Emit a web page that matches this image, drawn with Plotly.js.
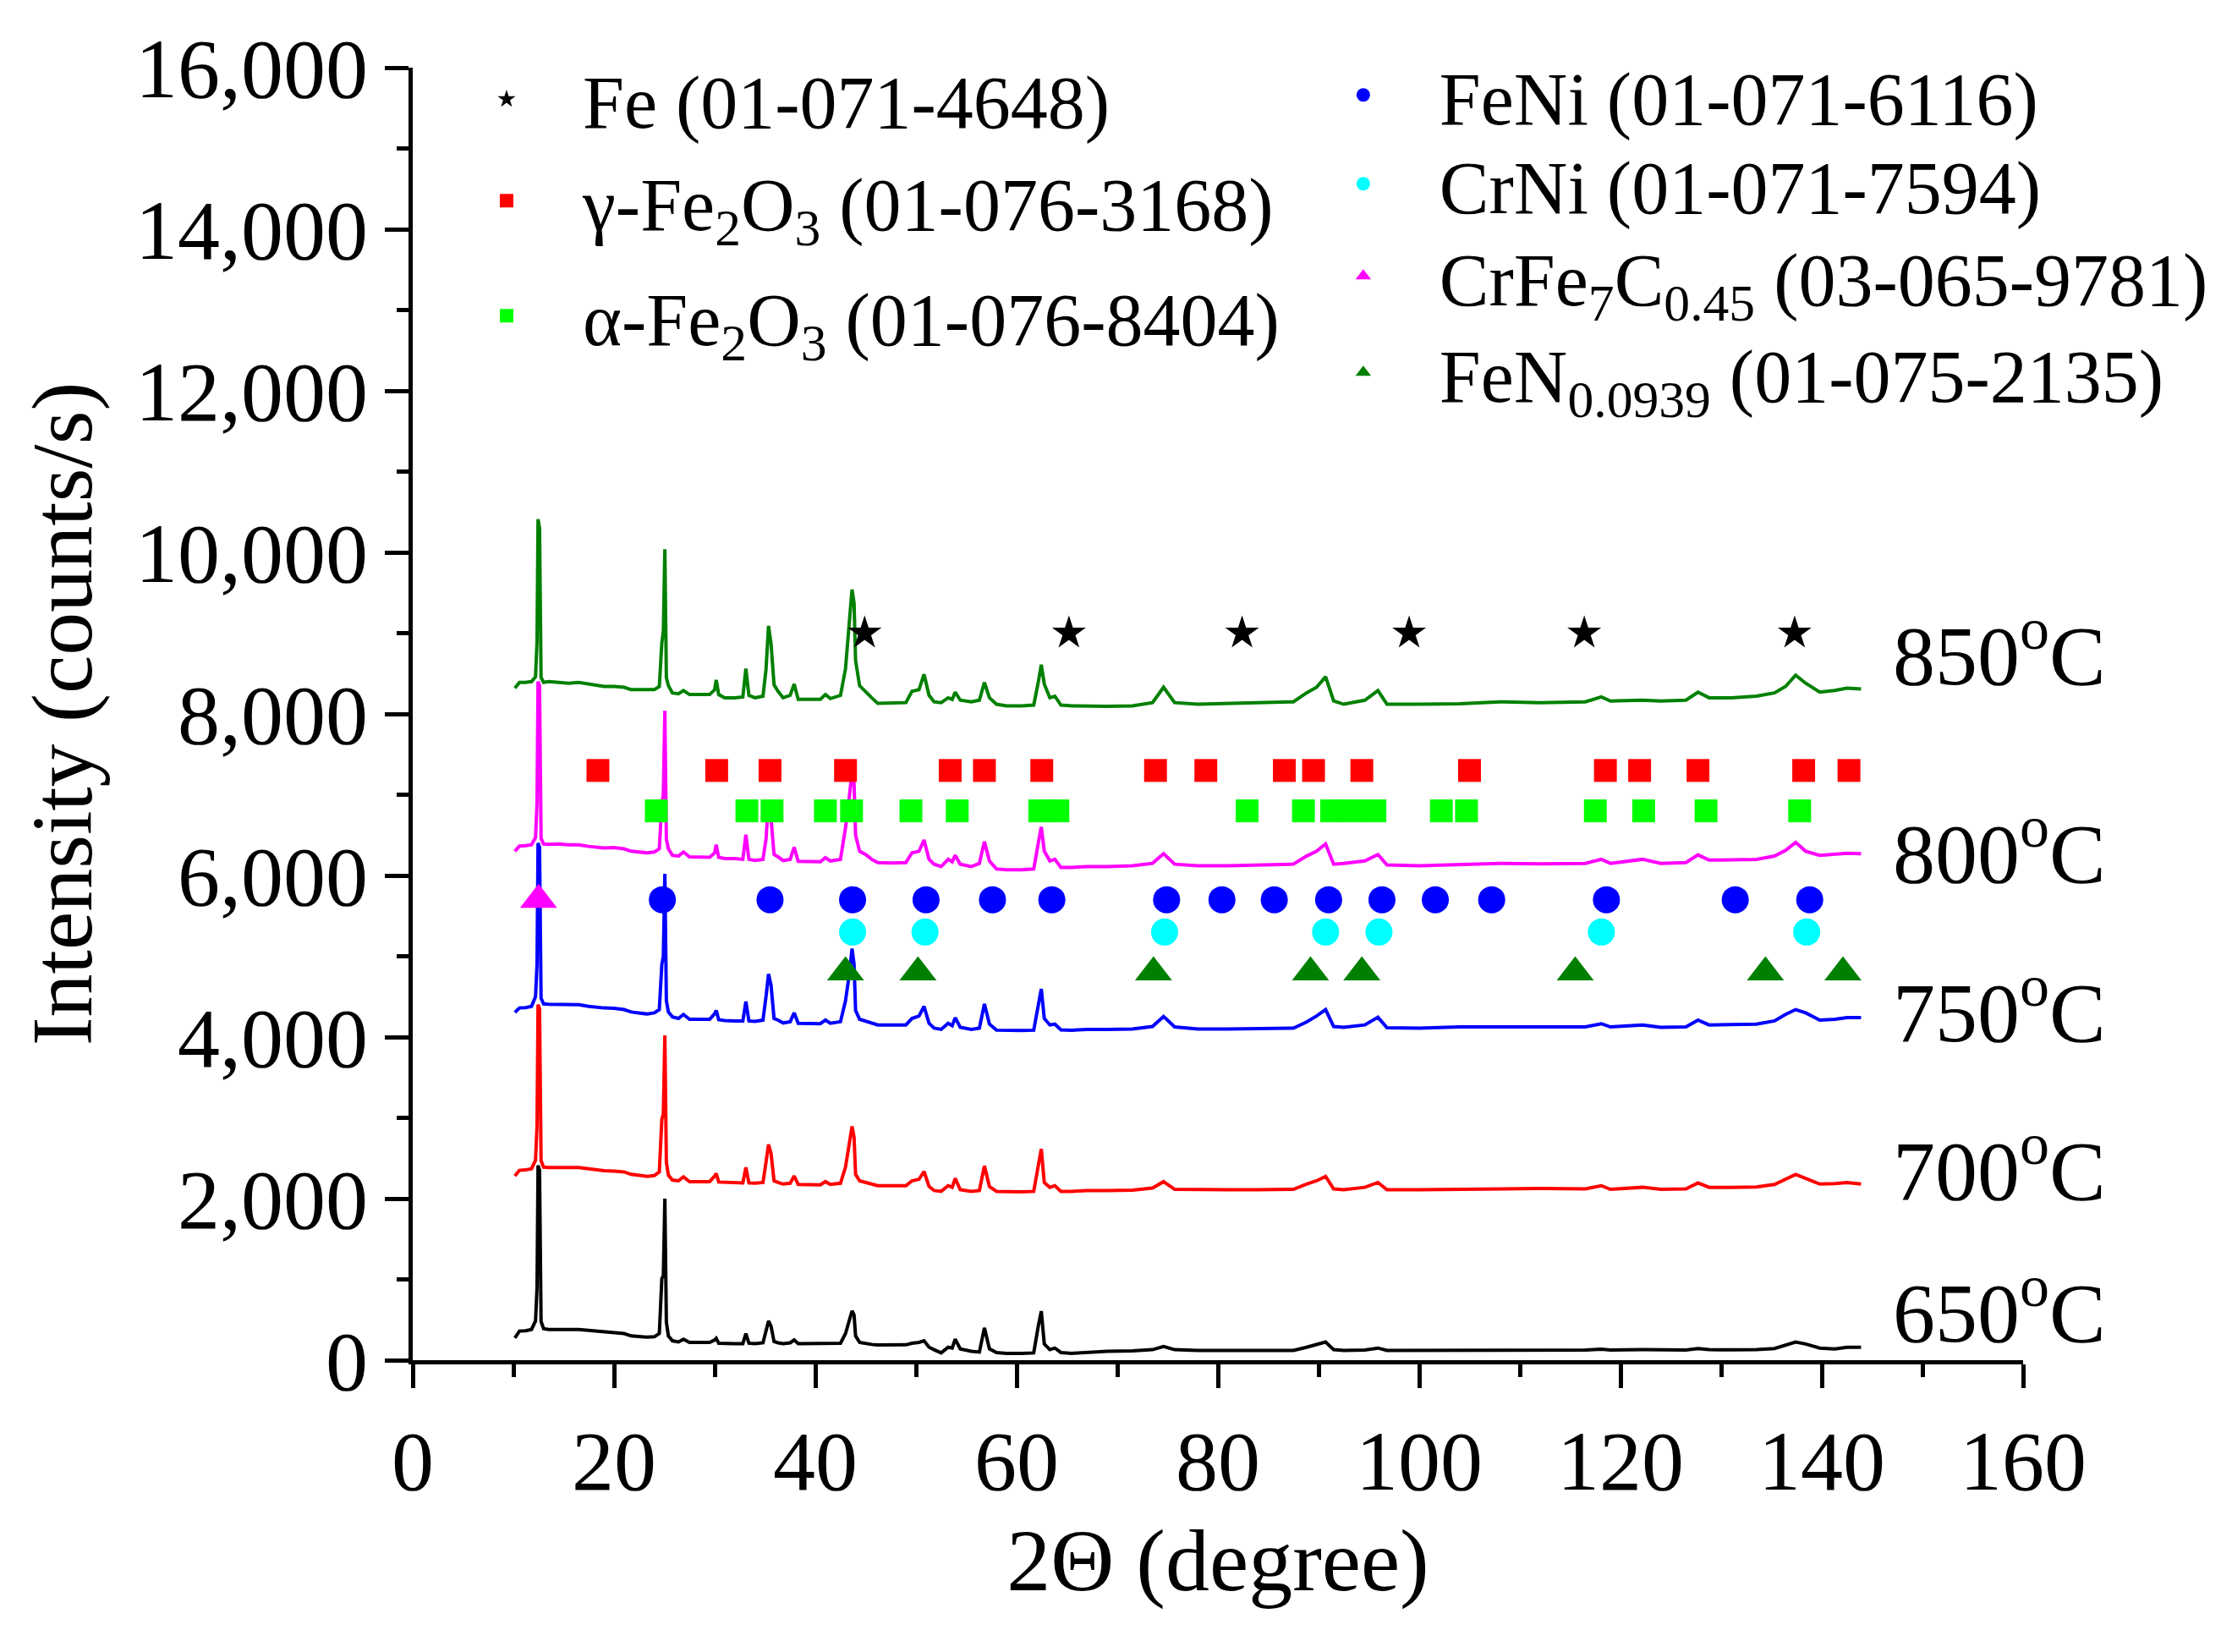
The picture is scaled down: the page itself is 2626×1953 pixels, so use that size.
<!DOCTYPE html>
<html><head><meta charset="utf-8">
<script src="https://cdn.plot.ly/plotly-3.0.1.min.js"></script>
<style>html,body{margin:0;padding:0;background:#fff}</style>
</head><body>
<div id="chart" style="width:2626px;height:1953px"></div>
<script>
// ---------- data ----------
const twoTheta = [
10.15,10.6,11.2,11.8,12.2,12.35,12.45,12.6,12.75,13.0,
13.5,14.5,15.5,16.5,17.5,18.5,19.0,20.0,21.0,21.7,
22.5,23.3,24.0,24.5,24.75,24.9,25.05,25.2,25.4,25.8,
26.4,26.9,27.5,28.5,29.5,30.0,30.15,30.4,31.0,32.0,
32.8,33.1,33.4,34.0,34.8,35.1,35.35,35.6,35.9,36.3,
36.8,37.5,37.9,38.3,39.5,40.5,41.0,41.5,42.5,43.0,
43.4,43.65,43.85,44.0,44.4,45.0,45.6,46.2,47.5,49.0,
49.6,50.3,50.8,51.3,51.8,52.5,53.2,53.6,53.9,54.4,
55.5,56.3,56.8,57.3,58.0,59.0,60.5,61.7,62.15,62.45,
62.75,63.3,63.8,64.4,65.5,67.0,69.0,71.5,73.5,74.6,
75.7,78.0,81.0,84.0,87.5,88.8,89.8,90.7,91.5,92.5,
94.6,95.9,96.8,100.0,104.0,108.0,112.0,116.5,118.1,119.0,
122.2,124.0,126.5,127.7,128.8,131.0,133.5,135.3,136.4,137.4,
138.4,139.8,141.3,142.5,143.9];

const int650 = [
275,360,365,380,485,900,2410,2350,480,390,
380,385,380,380,370,350,345,345,330,300,
290,285,290,330,1010,1050,2000,470,300,240,
225,260,220,220,220,250,270,210,205,205,
205,330,210,205,215,380,485,420,230,215,
205,215,250,205,205,205,215,205,210,330,
520,610,560,300,220,205,195,188,188,190,
210,220,240,160,130,90,160,150,260,140,
110,100,400,140,95,85,85,90,420,607,
200,130,150,95,85,100,110,115,130,170,
130,120,120,120,120,160,190,225,130,120,
125,150,120,120,125,125,125,125,135,125,
130,125,125,145,130,128,130,145,190,225,
200,150,140,160,160];

const int700 = [
2280,2350,2355,2370,2475,2900,4400,4350,2470,2390,
2385,2390,2385,2385,2370,2350,2345,2340,2330,2300,
2290,2275,2285,2330,2980,3050,4020,2450,2290,2230,
2220,2270,2210,2210,2210,2280,2310,2205,2200,2200,
2195,2385,2195,2190,2200,2450,2670,2560,2220,2200,
2180,2190,2280,2175,2170,2170,2210,2175,2190,2390,
2700,2895,2760,2300,2220,2200,2175,2160,2160,2160,
2220,2240,2335,2150,2100,2090,2160,2140,2250,2110,
2090,2100,2405,2150,2090,2085,2085,2090,2400,2615,
2200,2140,2160,2090,2090,2100,2100,2105,2130,2210,
2115,2110,2110,2110,2115,2180,2220,2275,2120,2110,
2140,2200,2110,2110,2115,2120,2125,2120,2160,2115,
2140,2115,2120,2195,2140,2140,2145,2175,2240,2300,
2250,2180,2185,2200,2180];

const int750 = [
4305,4360,4365,4380,4500,4900,6400,6350,4480,4410,
4405,4405,4400,4400,4380,4365,4360,4355,4340,4310,
4300,4285,4300,4340,4900,5000,6020,4450,4310,4250,
4230,4280,4220,4220,4220,4290,4330,4215,4205,4200,
4200,4440,4200,4195,4210,4500,4780,4640,4230,4210,
4175,4190,4300,4170,4165,4165,4210,4170,4190,4450,
4800,5095,4900,4330,4220,4200,4170,4150,4150,4150,
4230,4260,4380,4170,4110,4095,4170,4140,4240,4120,
4095,4110,4410,4160,4085,4080,4080,4085,4400,4595,
4230,4150,4160,4090,4085,4095,4095,4100,4130,4255,
4125,4100,4100,4105,4110,4185,4260,4340,4130,4120,
4150,4245,4115,4110,4125,4125,4130,4125,4165,4125,
4150,4120,4125,4210,4150,4155,4160,4200,4280,4340,
4300,4210,4220,4240,4240];

const int800 = [
6300,6365,6370,6380,6470,6900,8400,8350,6460,6390,
6385,6390,6380,6380,6360,6350,6340,6345,6330,6300,
6290,6280,6290,6330,6900,7000,8040,6450,6330,6250,
6240,6290,6230,6225,6225,6280,6380,6225,6210,6210,
6200,6505,6200,6185,6200,6450,6910,6700,6260,6230,
6185,6200,6350,6175,6175,6170,6220,6180,6200,6590,
7000,7280,7140,6500,6300,6260,6200,6160,6155,6160,
6280,6300,6440,6200,6140,6110,6200,6170,6250,6140,
6110,6150,6420,6180,6080,6070,6070,6080,6400,6600,
6300,6180,6200,6100,6100,6110,6110,6120,6150,6270,
6140,6120,6120,6125,6140,6240,6300,6390,6140,6150,
6180,6260,6130,6120,6130,6150,6145,6150,6200,6150,
6200,6150,6160,6255,6190,6190,6200,6240,6310,6410,
6300,6250,6265,6275,6270];

const int850 = [
8320,8390,8390,8400,8460,8900,10410,10300,8450,8390,
8400,8390,8380,8390,8370,8360,8340,8340,8330,8300,
8300,8290,8300,8340,8880,9020,10040,8450,8350,8260,
8250,8290,8240,8240,8240,8300,8420,8240,8200,8200,
8210,8560,8230,8200,8220,8550,9090,8870,8360,8280,
8200,8230,8370,8180,8180,8180,8240,8190,8230,8560,
9170,9540,9370,8660,8350,8270,8200,8130,8130,8140,
8280,8300,8490,8230,8150,8140,8200,8180,8270,8170,
8150,8170,8390,8200,8120,8100,8100,8110,8390,8610,
8370,8200,8220,8110,8100,8095,8095,8100,8140,8330,
8140,8120,8130,8130,8150,8260,8330,8460,8160,8120,
8170,8290,8120,8120,8125,8150,8140,8150,8210,8160,
8170,8160,8170,8270,8200,8200,8220,8260,8340,8480,
8380,8270,8290,8320,8310];

const seriesNames = ['650°C','700°C','750°C','800°C','850°C'];
const seriesLabels = ['650<sup>o</sup>C','700<sup>o</sup>C','750<sup>o</sup>C','800<sup>o</sup>C','850<sup>o</sup>C'];
const seriesLabelY = [664, 2423, 4380, 6350, 8800];

// phase reference markers (2θ positions and marker level)
const phaseNames = [
  'Fe (01-071-4648)',
  'γ-Fe<sub>2</sub>O<sub>3</sub> (01-076-3168)',
  'α-Fe<sub>2</sub>O<sub>3</sub> (01-076-8404)',
  'FeNi (01-071-6116)',
  'CrNi (01-071-7594)',
  'CrFe<sub>7</sub>C<sub>0.45</sub> (03-065-9781)',
  'FeN<sub>0.0939</sub> (01-075-2135)'
];
const feX = [44.9, 65.2, 82.4, 99.0, 116.4, 137.3];
const feY = [9000, 9000, 9000, 9000, 9000, 9000];
const gFe2O3X = [18.4, 30.2, 35.5, 43.0, 53.4, 56.8, 62.5, 73.8, 78.8, 86.6, 89.5, 94.3, 105.0, 118.5, 121.9, 127.7, 138.2, 142.7];
const gFe2O3Y = [7300,7300,7300,7300,7300,7300,7300,7300,7300,7300,7300,7300,7300,7300,7300,7300,7300,7300];
const aFe2O3X = [24.2, 33.2, 35.7, 41.0, 43.6, 49.5, 54.1, 62.3, 64.1, 82.9, 88.5, 91.3, 93.4, 95.6, 102.2, 104.7, 117.5, 122.3, 128.5, 137.8];
const aFe2O3Y = [6800,6800,6800,6800,6800,6800,6800,6800,6800,6800,6800,6800,6800,6800,6800,6800,6800,6800,6800,6800];
const feNiX = [24.8, 35.5, 43.7, 51.0, 57.6, 63.5, 74.9, 80.4, 85.6, 91.0, 96.3, 101.6, 107.2, 118.6, 131.4, 138.8];
const feNiY = [5700,5700,5700,5700,5700,5700,5700,5700,5700,5700,5700,5700,5700,5700,5700,5700];
const crNiX = [43.7, 50.9, 74.7, 90.7, 96.0, 118.1, 138.5];
const crNiY = [5300,5300,5300,5300,5300,5300,5300];
const crFeCX = [12.5];
const crFeCY = [5700];
const feNX = [43.0, 50.2, 73.6, 89.2, 94.3, 115.5, 134.4, 142.1];
const feNY = [4800,4800,4800,4800,4800,4800,4800,4800];

const xTickVals = [0,20,40,60,80,100,120,140,160];
const yTickVals = [0,2000,4000,6000,8000,10000,12000,14000,16000];

// ---------- build ----------
const FONT = 'Liberation Serif, Times New Roman, serif';
const lineColors = ['#000000','#ff0000','#0000ff','#ff00ff','#008000'];
const intensities = [int650, int700, int750, int800, int850];

const traces = intensities.map((ys, i) => ({
  type: 'scatter', mode: 'lines', x: twoTheta, y: ys, name: seriesNames[i],
  line: {color: lineColors[i], width: 4}, showlegend: false, hoverinfo: 'skip'
}));

const legendIds = ['legend','legend2','legend3','legend4','legend5','legend6','legend7'];
function phase(i, xs, ys, symbol, color, size) {
  return {type: 'scatter', mode: 'markers', x: xs, y: ys, name: phaseNames[i], legend: legendIds[i],
    marker: {symbol: symbol, color: color, size: size, line: {width: 0}}, cliponaxis: false};
}
traces.push(phase(0, feX, feY, 'star', '#000000', 30));
traces.push(phase(1, gFe2O3X, gFe2O3Y, 'square', '#ff0000', 27));
traces.push(phase(2, aFe2O3X, aFe2O3Y, 'square', '#00ff00', 27));
traces.push(phase(3, feNiX, feNiY, 'circle', '#0000ff', 32));
traces.push(phase(4, crNiX, crNiY, 'circle', '#00ffff', 32));
traces.push(phase(5, crFeCX, crFeCY, 'triangle-up', '#ff00ff', 38));
traces.push(phase(6, feNX, feNY, 'triangle-up', '#008000', 38));

const annotations = seriesLabels.map((t, i) => ({
  x: 146.9, y: seriesLabelY[i], xref: 'x', yref: 'y', text: t, showarrow: false,
  xanchor: 'left', yanchor: 'middle', font: {family: FONT, size: 100, color: '#000'}
}));

const legendCommon = {
  font: {family: FONT, size: 88, color: '#000'}, bgcolor: 'rgba(0,0,0,0)', borderwidth: 0,
  itemwidth: 170, traceorder: 'normal', xanchor: 'left', yanchor: 'middle',
  xref: 'paper', yref: 'paper', itemclick: false
};
// legend placement (paper fractions): left column / right column rows
const legendPos = [
  [0.011, 0.9755], [0.011, 0.8969], [0.011, 0.8079],
  [0.543, 0.9787], [0.543, 0.9100], [0.543, 0.8386], [0.543, 0.7640]
];

const layout = {
  width: 2626, height: 1953,
  margin: {l: 488, r: 234, t: 80, b: 345, pad: 0, autoexpand: false},
  paper_bgcolor: '#fff', plot_bgcolor: '#fff',
  font: {family: FONT, color: '#000'},
  showlegend: true,
  xaxis: {
    range: [0, 160], tickvals: xTickVals, ticktext: xTickVals.map(String),
    showline: true, linewidth: 5, linecolor: '#000', showgrid: false, zeroline: false,
    ticks: 'outside', ticklen: 28, tickwidth: 5, tickcolor: '#000',
    minor: {dtick: 10, tick0: 0, ticks: 'outside', ticklen: 15, tickwidth: 5, tickcolor: '#000', showgrid: false},
    tickfont: {family: FONT, size: 100, color: '#000'},
    title: {text: '2Θ (degree)', font: {family: FONT, size: 104, color: '#000'}, standoff: 27},
    automargin: false
  },
  yaxis: {
    range: [0, 16000], tickvals: yTickVals, tickformat: ',d',
    showline: true, linewidth: 5, linecolor: '#000', showgrid: false, zeroline: false,
    ticks: 'outside', ticklen: 28, tickwidth: 5, tickcolor: '#000',
    minor: {dtick: 1000, tick0: 0, ticks: 'outside', ticklen: 14, tickwidth: 5, tickcolor: '#000', showgrid: false},
    tickfont: {family: FONT, size: 100, color: '#000'},
    title: {text: 'Intensity (counts/s)', font: {family: FONT, size: 102, color: '#000'}, standoff: 19},
    automargin: false
  },
  annotations: annotations
};
legendIds.forEach((id, i) => {
  layout[id] = Object.assign({}, legendCommon, {x: legendPos[i][0], y: legendPos[i][1]});
});

Plotly.newPlot('chart', traces, layout, {staticPlot: true, displayModeBar: false});
</script>
</body></html>
